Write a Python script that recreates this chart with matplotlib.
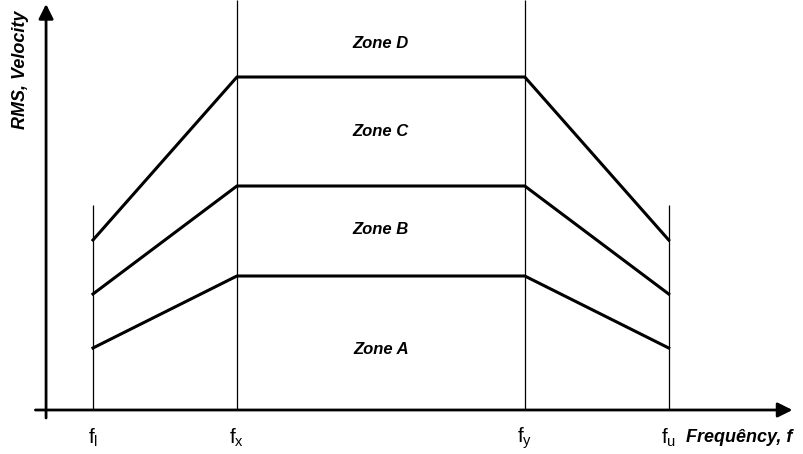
import matplotlib
matplotlib.use("Agg")
import matplotlib.pyplot as plt

plt.rcParams['font.family'] = ['Liberation Sans', 'DejaVu Sans']
plt.rcParams['mathtext.fontset'] = 'custom'
plt.rcParams['mathtext.rm'] = 'Liberation Sans'

# frequency break points (f_l, f_x, f_y, f_u) in arbitrary units
freqs = [1.0, 2.0, 4.0, 5.0]
freq_labels = [r'$\mathrm{f_l}$', r'$\mathrm{f_x}$', r'$\mathrm{f_y}$', r'$\mathrm{f_u}$']

# zone boundary curves (RMS velocity, arbitrary units)
boundary_ab = [6.2, 13.4, 13.4, 6.2]
boundary_bc = [11.6, 22.4, 22.4, 11.6]
boundary_cd = [17.0, 33.3, 33.3, 17.0]

zone_names = ['Zone A', 'Zone B', 'Zone C', 'Zone D']
zone_levels = [6.0, 18.0, 27.8, 36.6]

fig = plt.figure(figsize=(8.04, 4.54), dpi=100)
ax = fig.add_axes([0, 0, 1, 1])
ax.set_xlim(0.354, 5.94)
ax.set_ylim(-4.4, 41.0)
ax.axis('off')

# vertical guide lines
ax.vlines([freqs[0], freqs[3]], 0, 20.5, color='black', lw=0.9)
ax.vlines([freqs[1], freqs[2]], 0, 41.0, color='black', lw=0.9)

# zone boundaries
for b in (boundary_ab, boundary_bc, boundary_cd):
    ax.plot(freqs, b, color='black', lw=2.2, solid_joinstyle='miter')

# axes with arrows
ax.annotate('', xy=(5.86, 0), xytext=(0.6, 0),
            arrowprops=dict(arrowstyle='-|>', lw=2, color='black', mutation_scale=22,
                            shrinkA=0, shrinkB=0))
ax.annotate('', xy=(0.674, 40.6), xytext=(0.674, -0.8),
            arrowprops=dict(arrowstyle='-|>', lw=2, color='black', mutation_scale=22,
                            shrinkA=0, shrinkB=0))

# frequency labels
for f, lab in zip(freqs, freq_labels):
    ax.text(f, -2.8, lab, ha='center', va='center', fontsize=15)
ax.text(5.12, -2.7, 'Frequêncy, f', ha='left', va='center', fontsize=13,
        fontweight='bold', fontstyle='italic')
ax.text(0.495, 34.0, 'RMS, Velocity', ha='center', va='center', rotation=90,
        fontsize=13, fontweight='bold', fontstyle='italic')

for name, lvl in zip(zone_names, zone_levels):
    ax.text(3.0, lvl, name, ha='center', va='center', fontsize=12,
            fontweight='bold', fontstyle='italic')

fig.savefig('out.png', dpi=100)
